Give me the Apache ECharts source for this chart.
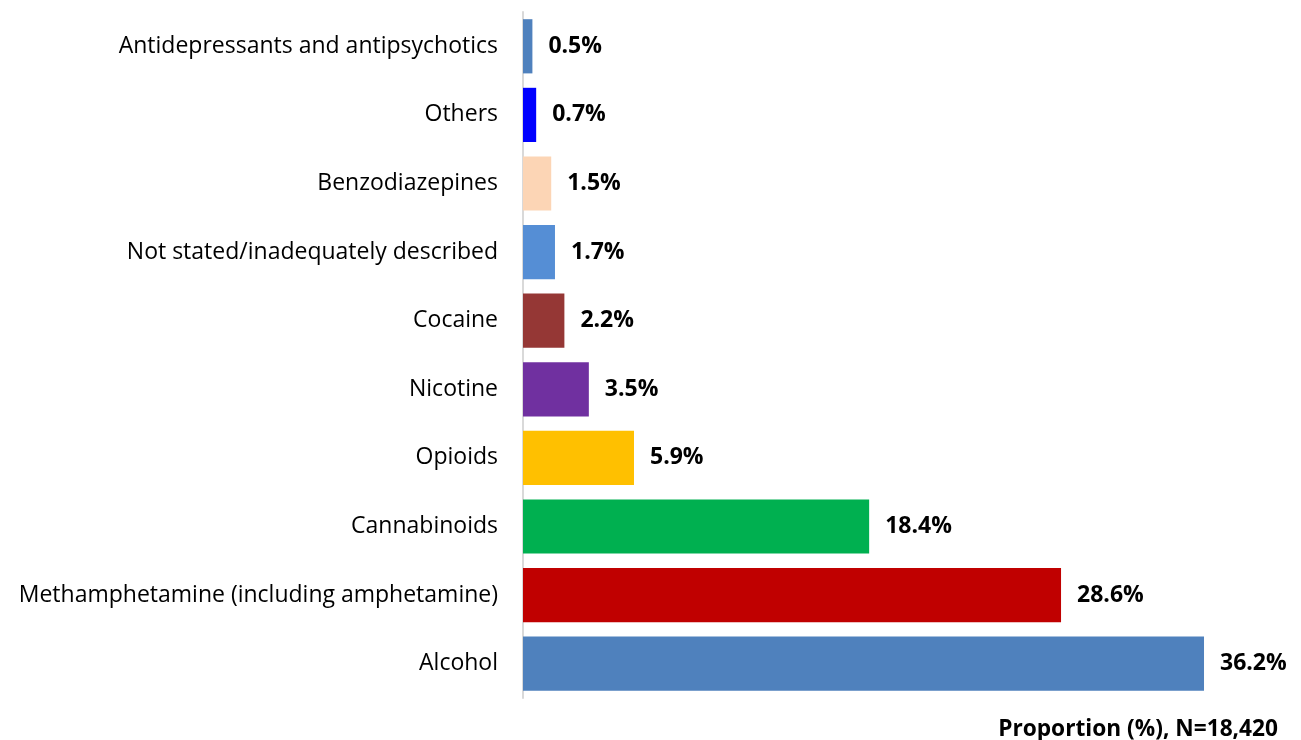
<!DOCTYPE html>
<html>
<head>
<meta charset="utf-8">
<script src="https://cdn.jsdelivr.net/npm/echarts@6/dist/echarts.min.js"></script>
<style>
  html, body { margin: 0; padding: 0; background: #fff; }
  #chart { width: 1301px; height: 740px; }
</style>
</head>
<body>
<div id="chart"></div>
<script>
// Drug categories, bottom to top
const categories = [
  'Alcohol',
  'Methamphetamine (including amphetamine)',
  'Cannabinoids',
  'Opioids',
  'Nicotine',
  'Cocaine',
  'Not stated/inadequately described',
  'Benzodiazepines',
  'Others',
  'Antidepressants and antipsychotics'
];
// Proportion of episodes (%)
const proportions = [36.2, 28.6, 18.4, 5.9, 3.5, 2.2, 1.7, 1.5, 0.7, 0.5];
const barColors = [
  '#4F81BD', '#C00000', '#00B050', '#FFC000', '#7030A0',
  '#953735', '#558ED5', '#FCD5B5', '#0000FF', '#4F81BD'
];
const axisTitle = 'Proportion (%), N=18,420';

const fontFamily = '"Open Sans", Lato, "Liberation Sans", sans-serif';

const chart = echarts.init(document.getElementById('chart'), null, { renderer: 'canvas' });
chart.setOption({
  animation: false,
  backgroundColor: '#ffffff',
  title: {
    text: axisTitle,
    right: 18,
    bottom: -6,
    textStyle: { fontFamily, fontSize: 22.7, fontWeight: 'bold', color: '#000' }
  },
  grid: { left: 523, right: 25.5, top: 12, bottom: 42, containLabel: false },
  xAxis: {
    type: 'value',
    min: 0,
    max: 40,
    show: false
  },
  yAxis: {
    type: 'category',
    data: categories,
    axisLine: { show: true, lineStyle: { color: '#D9D9D9', width: 2 } },
    axisTick: { show: false },
    axisLabel: { color: '#000', fontFamily, fontSize: 23, margin: 25 }
  },
  series: [{
    type: 'bar',
    barCategoryGap: '21%',
    data: proportions.map((v, i) => ({ value: v, itemStyle: { color: barColors[i] } })),
    label: {
      show: true,
      position: 'right',
      distance: 16,
      formatter: p => p.value.toFixed(1) + '%',
      color: '#000',
      fontFamily,
      fontSize: 23,
      fontWeight: 'bold'
    }
  }]
});
</script>
</body>
</html>
